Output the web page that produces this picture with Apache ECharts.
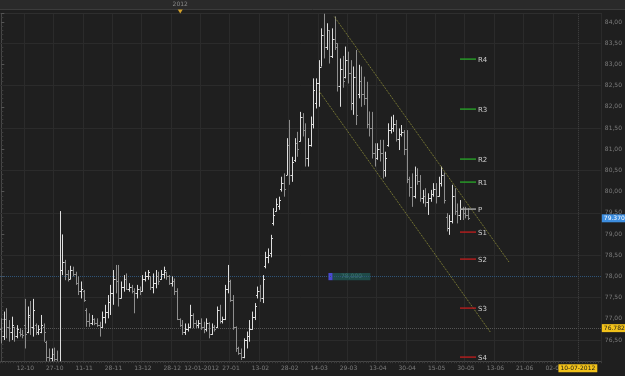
<!DOCTYPE html>
<html><head><meta charset="utf-8">
<script src="https://cdn.jsdelivr.net/npm/echarts@6/dist/echarts.min.js"></script>
<style>html,body{margin:0;padding:0;background:#1f1f1f;}#c{width:625px;height:376px;}</style>
</head><body><div id="c"></div>
<script>
// ---- data ----
const slotCount = 225;
const tickSlots = [9,20,31,42,53,64,75,86,97,108,119,130,141,152,163,174,185,196,207];
const tickTexts = ['12-10','27-10','11-11','28-11','13-12','28-12','12-01-2012','27-01','13-02','28-02','14-03','29-03','13-04','30-04','15-05','30-05','13-06','21-06','02-07'];
const opens = [76.75,76.60,77.00,76.80,76.70,76.80,76.60,76.70,76.65,76.85,
76.70,77.05,76.80,76.85,76.70,76.70,76.80,76.45,76.10,76.08,
76.18,76.05,75.80,78.15,78.35,78.05,77.95,78.15,78.05,77.85,
77.65,77.65,77.20,76.95,76.90,77.00,76.90,76.85,76.80,77.05,
77.15,77.40,77.60,77.95,77.90,77.50,77.75,77.95,77.70,77.75,
77.65,77.60,77.70,77.65,77.95,78.00,78.00,77.75,77.85,78.00,
77.95,78.05,78.10,78.00,77.85,77.90,77.65,77.00,76.85,76.70,
76.75,76.80,77.10,76.90,76.85,76.90,76.80,76.75,76.90,76.65,
76.80,76.80,77.20,76.95,77.00,77.70,77.90,77.45,76.80,76.30,
76.20,76.10,76.50,76.60,76.75,77.05,77.55,77.65,77.50,78.25,
78.45,78.55,79.25,79.55,79.65,80.05,80.20,80.40,81.10,80.40,
80.75,81.15,81.20,81.75,81.45,80.80,81.10,81.60,82.10,82.55,
82.95,83.70,83.40,83.80,83.20,83.60,83.40,82.50,82.90,82.70,
83.10,82.80,82.10,82.70,82.30,82.60,82.30,82.20,81.60,81.50,
80.90,80.80,81.00,80.90,80.50,81.10,81.45,81.50,81.60,81.25,
81.35,81.40,81.00,80.30,80.10,79.90,80.40,80.25,79.85,79.90,
79.75,79.85,79.95,80.05,79.90,80.20,80.40,79.40,79.15,79.30,
79.90,79.55,79.45,79.60,79.50,79.45];
const highs = [77.01,77.17,77.25,76.97,77.05,76.81,76.85,76.78,76.74,77.47,
77.29,77.42,77.47,76.89,76.85,77.09,76.89,76.48,76.30,76.30,
76.32,76.25,79.54,78.99,78.39,78.15,78.25,78.23,78.11,78.00,
77.88,77.68,77.25,77.13,77.09,77.01,77.01,76.93,77.17,77.33,
77.56,77.80,78.15,78.27,78.27,77.88,78.03,78.07,77.84,77.80,
77.72,77.80,77.76,78.03,78.11,78.15,78.00,78.07,78.15,78.11,
78.15,78.23,78.11,78.03,78.00,77.95,77.72,77.01,76.97,76.89,
76.89,77.33,77.13,76.97,76.97,77.01,76.93,77.01,76.92,76.89,
76.85,77.29,77.33,77.05,77.80,78.27,77.92,77.56,76.82,76.34,
76.30,76.54,76.70,76.97,77.17,77.37,77.76,77.80,78.03,78.58,
78.66,78.98,79.61,79.84,79.88,80.35,80.43,81.26,81.69,80.82,
81.26,81.41,81.88,81.85,81.61,81.26,81.77,82.67,82.67,83.10,
83.85,84.20,83.97,83.81,83.85,84.13,83.50,83.14,83.20,83.42,
83.30,83.10,82.95,83.34,82.99,82.95,82.71,82.59,81.89,81.88,
81.14,81.14,81.22,81.22,80.94,81.61,81.77,81.81,81.69,81.49,
81.57,81.45,81.45,80.35,80.43,80.59,80.55,80.39,80.04,80.08,
79.96,80.04,80.20,80.20,80.35,80.59,80.45,79.49,79.45,80.16,
80.08,79.72,79.80,79.64,79.64,79.61];
const lows = [76.42,76.50,76.54,76.46,76.50,76.46,76.54,76.58,76.54,76.30,
76.66,76.62,76.58,76.62,76.62,76.66,76.46,75.90,75.80,75.85,
75.75,75.70,75.56,78.03,77.91,77.88,77.93,78.00,77.80,77.56,
77.48,77.40,76.81,76.81,76.85,76.85,76.81,76.58,76.78,76.89,
77.01,77.09,77.33,77.60,77.29,77.48,77.64,77.68,77.64,77.60,
77.13,77.48,77.56,77.64,77.88,77.92,77.68,77.60,77.72,77.80,
77.92,77.95,77.92,77.80,77.76,77.56,76.97,76.81,76.62,76.62,
76.70,76.78,76.78,76.78,76.78,76.74,76.66,76.70,76.54,76.62,
76.70,76.78,76.89,76.89,76.97,77.60,77.40,76.74,76.22,76.15,
76.03,76.07,76.30,76.46,76.74,76.97,77.48,77.40,77.37,78.19,
78.31,78.45,79.20,79.53,79.57,80.00,79.88,80.39,80.16,80.23,
80.70,80.82,81.18,81.30,80.59,80.59,81.06,81.49,81.96,82.00,
82.95,83.14,83.34,83.02,83.15,83.34,82.36,82.00,82.45,82.67,
82.55,81.92,81.81,81.57,82.20,82.00,82.04,81.49,81.30,80.78,
80.59,80.75,80.71,80.31,80.35,81.06,81.37,81.41,81.18,80.98,
81.30,80.86,80.20,79.88,79.64,79.84,80.16,79.76,79.72,79.64,
79.45,79.76,79.88,79.72,79.88,80.12,79.72,79.06,78.98,79.25,
79.45,79.25,79.33,79.33,79.37,79.33];
const closes = [76.60,77.00,76.80,76.70,76.85,76.60,76.75,76.65,76.62,76.65,
77.10,76.80,77.20,76.70,76.75,76.85,76.70,76.10,76.08,76.18,
76.05,75.90,78.15,78.35,78.05,77.95,78.15,78.05,77.85,77.65,
77.70,77.45,76.95,76.90,77.00,76.90,76.85,76.80,77.05,77.15,
77.40,77.60,77.95,77.90,77.50,77.75,77.95,77.70,77.75,77.65,
77.60,77.70,77.65,77.95,78.00,78.10,77.75,77.85,78.00,77.90,
78.05,78.15,78.00,77.85,77.90,77.65,77.00,76.85,76.70,76.75,
76.80,77.10,76.90,76.85,76.90,76.80,76.75,76.90,76.65,76.80,
76.75,77.20,76.95,77.00,77.70,77.90,77.45,76.80,76.30,76.20,
76.10,76.50,76.60,76.75,77.05,77.30,77.65,77.50,77.95,78.45,
78.50,78.90,79.45,79.70,79.80,80.20,80.05,81.10,80.40,80.70,
81.15,81.00,81.75,81.45,80.80,81.10,81.60,82.40,82.55,82.95,
83.70,83.40,83.80,83.20,83.60,83.50,82.50,82.90,82.60,83.10,
82.80,82.10,82.70,81.80,82.60,82.30,82.20,81.60,81.50,80.90,
80.80,81.00,80.90,80.50,80.80,81.45,81.50,81.60,81.25,81.35,
81.40,81.00,80.30,80.10,79.90,80.40,80.25,79.85,79.90,79.75,
79.85,79.95,80.05,79.90,80.20,80.40,79.80,79.15,79.30,79.90,
79.55,79.45,79.60,79.50,79.45,79.37];
const pivotNames = ['R4','R3','R2','R1','P','S1','S2','S3','S4'];
const pivotValues = [83.12,81.95,80.78,80.22,79.59,79.04,78.42,77.26,76.09];
const pivotStartSlot = 171.8, pivotEndSlot = 177.9;
const channelUpper = [[124.7,84.125],[190.1,78.34]];
const channelLower = [[119.1,82.36],[183.3,76.67]];
const gridLevels = [76.5,77.5,78.5,79.5,80.5,81.5,82.5,83.5];
const levelBlue = 78.00;
const levelGrey = 76.782;
const lastPrice = 79.37;
const nowSlot = 215.9, nowLabel = '10-07-2012';
const yearSlot = 67, yearLabel = '2012';
const boxSlots = [122.5, 124.1, 138.2], boxTop = 78.08, boxBottom = 77.91, boxText = '78,000';

// ---- build ----
const cats = [];
for (let i = 0; i < slotCount; i++) { const k = tickSlots.indexOf(i); cats.push(k >= 0 ? tickTexts[k] : ''); }
const isTick = (i) => tickSlots.indexOf(i) >= 0;
const ohlc = opens.map((o, i) => [i, o, highs[i], lows[i], closes[i]]);
const pivotData = pivotValues.map((v, k) => [pivotStartSlot, pivotEndSlot, v, k]);
const FONT = 'DejaVu Sans';
const pivotColor = (n) => n[0] === 'R' ? '#28a028' : (n[0] === 'S' ? '#b81e1e' : '#a8a8a8');

const chart = echarts.init(document.getElementById('c'), null, {renderer: 'canvas'});
const gridMarks = gridLevels.map(v => ({yAxis: v, lineStyle: {color: '#2b2b2b', width: 1, type: 'solid'}, label: {show: false}}));

chart.setOption({
  animation: false,
  backgroundColor: '#1f1f1f',
  grid: {left: 0, right: 23, top: 13.5, bottom: 14.8, show: false},
  xAxis: [
    {type: 'category', data: cats, boundaryGap: true,
     axisLine: {show: true, lineStyle: {color: '#464646'}},
     axisTick: {show: true, interval: 0, length: 2, lineStyle: {color: '#3c3c3c'}},
     axisLabel: {interval: (i) => isTick(i), color: '#7c7c7c', fontSize: 6, fontFamily: FONT, margin: 4},
     splitLine: {show: true, interval: (i) => isTick(i), lineStyle: {color: '#2b2b2b', width: 1}}},
    {type: 'value', min: -0.5, max: slotCount - 0.5, show: false}
  ],
  yAxis: {type: 'value', position: 'right', min: 76, max: 84.2, interval: 0.5, scale: true,
    axisLine: {show: true, lineStyle: {color: '#464646'}},
    axisTick: {show: true, length: 3, lineStyle: {color: '#555'}},
    minorTick: {show: true, splitNumber: 5, length: 2, lineStyle: {color: '#3c3c3c'}},
    splitLine: {show: false},
    axisLabel: {color: '#7c7c7c', fontSize: 6, fontFamily: FONT, margin: 4,
      formatter: (v) => (Math.abs(v * 2 - Math.round(v * 2)) < 1e-6 && v > 76.01 && v < 84.1) ? v.toFixed(2).replace('.', ',') : ''}},
  series: [
    {type: 'custom', xAxisIndex: 0, clip: true, data: ohlc,
     encode: {x: 0, y: [1, 2, 3, 4]},
     renderItem: (params, api) => {
       const i = api.value(0), o = api.value(1), h = api.value(2), l = api.value(3), c = api.value(4);
       const po = api.coord([i, o]), ph = api.coord([i, h]), pl = api.coord([i, l]), pc = api.coord([i, c]);
       const cx = Math.floor(po[0]) + 0.5;
       const col = c >= o ? '#dedede' : '#8e8e8e';
       const oy = Math.round(po[1]) + 0.5, cy = Math.round(pc[1]) + 0.5;
       return {type: 'group', children: [
         {type: 'line', shape: {x1: cx, y1: ph[1], x2: cx, y2: pl[1]}, style: {stroke: col, lineWidth: 1}},
         {type: 'line', shape: {x1: cx - 1.5, y1: oy, x2: cx, y2: oy}, style: {stroke: col, lineWidth: 1}},
         {type: 'line', shape: {x1: cx, y1: cy, x2: cx + 1.5, y2: cy}, style: {stroke: col, lineWidth: 1}}
       ]};
     },
     z: 5},
    {type: 'line', xAxisIndex: 1, data: channelUpper, symbol: 'none', silent: true,
     lineStyle: {color: '#8c8c38', width: 1, type: 'dotted'}, z: 6,
     markLine: {silent: true, symbol: ['none', 'none'], animation: false,
       data: gridMarks.concat([
         {yAxis: levelBlue, lineStyle: {color: '#2e5478', width: 1, type: 'dotted'}, label: {show: false}},
         {yAxis: levelGrey, lineStyle: {color: '#555555', width: 1, type: 'dotted'},
          label: {show: true, position: 'end', formatter: levelGrey.toFixed(3), backgroundColor: '#f2c21a', color: '#1a1a1a', fontSize: 6, fontFamily: FONT, padding: [1, 2], distance: 1}},
         {yAxis: lastPrice, lineStyle: {color: 'rgba(0,0,0,0)', width: 1},
          label: {show: true, position: 'end', formatter: lastPrice.toFixed(3), backgroundColor: '#3d8ee0', color: '#ffffff', fontSize: 6, fontFamily: FONT, padding: [1, 2], distance: 1}},
         {xAxis: nowSlot, lineStyle: {color: '#444444', width: 1, type: 'dotted'},
          label: {show: true, position: 'start', formatter: nowLabel, backgroundColor: '#f2c21a', color: '#1a1a1a', fontSize: 6, fontFamily: FONT, padding: [1, 2], distance: 3}}
       ])},
     markArea: {silent: true, data: [
       [{coord: [boxSlots[0], boxTop], itemStyle: {color: '#4a4ad0'}}, {coord: [boxSlots[1], boxBottom]}],
       [{coord: [boxSlots[1], boxTop], itemStyle: {color: '#1f4a48'},
         label: {show: true, position: 'inside', formatter: boxText, color: '#3f7472', fontSize: 6, fontFamily: FONT}}, {coord: [boxSlots[2], boxBottom]}]
     ]}},
    {type: 'line', xAxisIndex: 1, data: channelLower, symbol: 'none', silent: true,
     lineStyle: {color: '#8c8c38', width: 1, type: 'dotted'}, z: 6},
    {type: 'custom', xAxisIndex: 1, clip: false, silent: true, data: pivotData, z: 7,
     encode: {x: [0, 1], y: 2},
     renderItem: (params, api) => {
       const a = api.coord([api.value(0), api.value(2)]);
       const b = api.coord([api.value(1), api.value(2)]);
       const y = Math.round(a[1]);
       const n = pivotNames[api.value(3)];
       return {type: 'group', children: [
         {type: 'rect', shape: {x: Math.round(a[0]), y: y - 0.6, width: Math.round(b[0] - a[0]), height: 1.4}, style: {fill: pivotColor(n)}},
         {type: 'text', x: Math.round(b[0]) + 2, y: y + 1, style: {text: n, fill: '#d0d0d0', font: '7px ' + FONT, verticalAlign: 'middle'}}
       ]};
     }}
  ]
});

// top strip decoration
const yx = chart.convertToPixel({xAxisIndex: 1}, yearSlot);
chart.setOption({graphic: [
  {type: 'rect', shape: {x: 0, y: 0, width: 625, height: 9}, style: {fill: '#2a2a2a'}, z: 0},
  {type: 'line', shape: {x1: 0, y1: 9.5, x2: 625, y2: 9.5}, style: {stroke: '#3c3c3c', lineWidth: 1}},
  {type: 'line', shape: {x1: 0, y1: 13.5, x2: 602, y2: 13.5}, style: {stroke: '#2e2e2e', lineWidth: 1}},
  {type: 'text', x: yx, y: 4.5, style: {text: yearLabel, fill: '#8a8a8a', font: '6px ' + FONT, align: 'center', verticalAlign: 'middle'}},
  {type: 'polygon', shape: {points: [[yx - 2.5, 9.5], [yx + 2.5, 9.5], [yx, 13.5]]}, style: {fill: '#d2a02a'}}
]});
</script></body></html>
